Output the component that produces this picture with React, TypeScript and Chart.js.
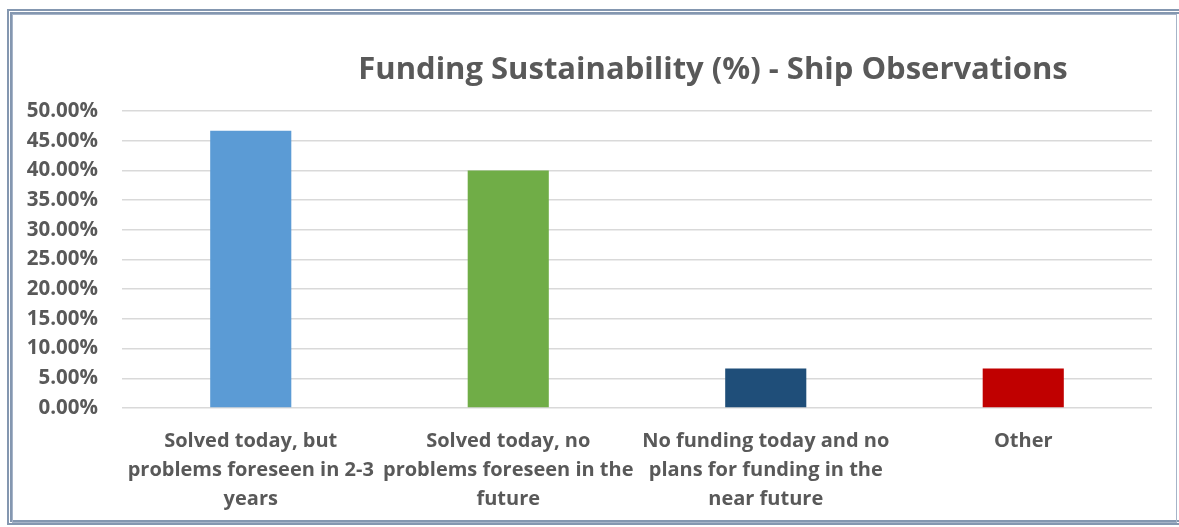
import React, { useEffect, useRef } from "react";
import { Chart, registerables } from "chart.js";

Chart.register(...registerables);

const categories: string[][] = [
  ["Solved today, but", "problems foreseen in 2-3", "years"],
  ["Solved today, no", "problems foreseen in the", "future"],
  ["No funding today and no", "plans for funding in the", "near future"],
  ["Other"],
];
const values: number[] = [46.67, 40.0, 6.67, 6.67];
const barColors: string[] = ["#5B9BD5", "#70AD47", "#1F4E79", "#C00000"];
const yMin = 0;
const yMax = 50;
const yStep = 5;
const titleText = "Funding Sustainability (%) - Ship Observations";

const FONT = "'Open Sans', 'DejaVu Sans', sans-serif";
const TEXT = "#595959";

const titlePlugin = {
  id: "customTitle",
  afterDraw(chart: any) {
    const ctx = chart.ctx;
    ctx.save();
    ctx.font = `bold 31px ${FONT}`;
    ctx.fillStyle = TEXT;
    ctx.textAlign = "center";
    ctx.textBaseline = "alphabetic";
    ctx.fillText(titleText, 713, 79);
    ctx.restore();
  },
};

export default function App() {
  const ref = useRef<HTMLCanvasElement | null>(null);
  useEffect(() => {
    document.body.style.margin = "0";
    document.body.style.background = "#ffffff";
    const canvas = ref.current;
    if (!canvas) return;
    const chart = new Chart(canvas, {
      type: "bar",
      data: {
        labels: categories,
        datasets: [
          {
            data: values,
            backgroundColor: barColors,
            borderWidth: 0,
            categoryPercentage: 1,
            barPercentage: 0.315,
          },
        ],
      },
      options: {
        animation: false,
        responsive: false,
        maintainAspectRatio: false,
        layout: { padding: { left: 20, right: 27, top: 111, bottom: 0 } },
        plugins: {
          legend: { display: false },
          tooltip: { enabled: false },
          title: { display: false },
        },
        scales: {
          y: {
            min: yMin,
            max: yMax,
            ticks: {
              stepSize: yStep,
              callback: (v: any) => Number(v).toFixed(2) + "%",
              font: { family: FONT, size: 20.5, weight: "bold" },
              color: TEXT,
              padding: 24,
            },
            grid: { color: "#D9D9D9", lineWidth: 1.5, drawTicks: false },
            border: { display: false },
            afterFit: (s: any) => {
              s.width = 102;
            },
          },
          x: {
            ticks: {
              font: { family: FONT, size: 20, weight: "bold", lineHeight: 1.45 },
              color: TEXT,
              padding: 11,
              maxRotation: 0,
              autoSkip: false,
            },
            grid: { display: false },
            border: { display: false },
            afterFit: (s: any) => {
              s.height = 119;
            },
          },
        },
      },
      plugins: [titlePlugin],
    });
    return () => chart.destroy();
  }, []);

  return (
    <div
      style={{
        position: "fixed",
        left: 0,
        top: 0,
        width: 1179,
        height: 527,
        overflow: "hidden",
        background: "#fff",
      }}
    >
      <canvas
        ref={ref}
        width={1179}
        height={527}
        style={{ position: "absolute", left: 0, top: 0, width: 1179, height: 527 }}
      />
      <div
        style={{
          position: "absolute",
          left: 7,
          top: 9,
          width: 1180,
          height: 516,
          border: "5px double #8497B0",
          boxSizing: "border-box",
          pointerEvents: "none",
        }}
      />
      <div
        style={{
          position: "absolute",
          left: 12,
          top: 14,
          width: 1165,
          height: 509,
          border: "1px solid #A6B4C8",
          boxSizing: "border-box",
          pointerEvents: "none",
        }}
      />
    </div>
  );
}
